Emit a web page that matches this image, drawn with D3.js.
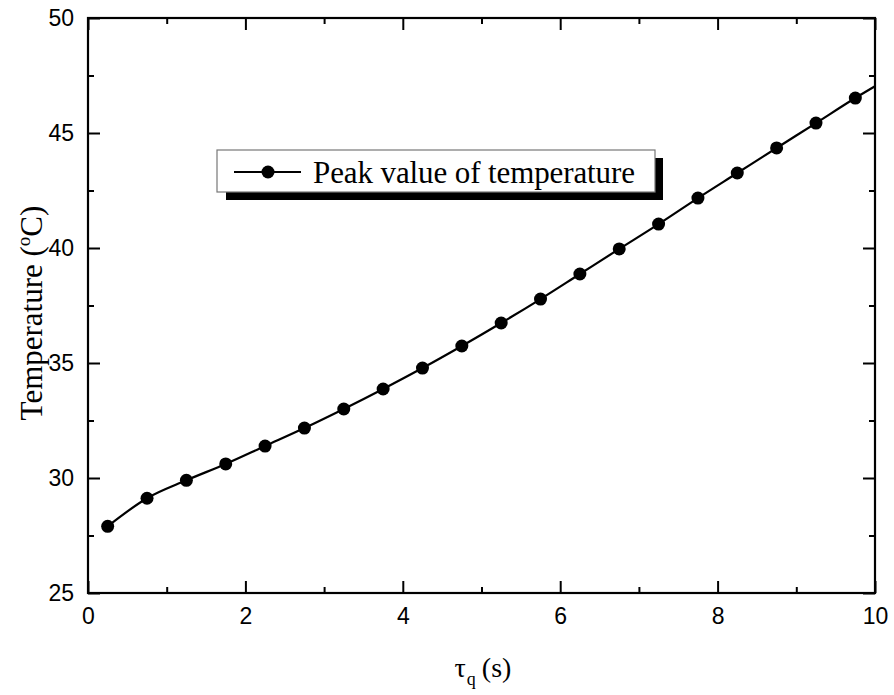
<!DOCTYPE html>
<html><head><meta charset="utf-8">
<script src="https://cdn.jsdelivr.net/npm/d3@7"></script>
<style>body{margin:0;background:#fff}</style>
</head><body>
<svg id="c" width="894" height="695"></svg>
<script>
const tauQ = [0.25,0.75,1.25,1.75,2.25,2.75,3.25,3.75,4.25,4.75,5.25,5.75,6.25,6.75,7.25,7.75,8.25,8.75,9.25,9.75];
const peakTemp = [27.9,29.12,29.9,30.61,31.39,32.17,33.0,33.87,34.78,35.74,36.74,37.78,38.87,39.96,41.04,42.17,43.26,44.35,45.43,46.52];
const curveEndX = 10;
const curveEndY = 47.03;
const xTicks = [0,2,4,6,8,10];
const yTicks = [25,30,35,40,45,50];
const legendLabel = "Peak value of temperature";

const svg = d3.select("#c");
const L = 88, R = 875, T = 18, B = 593;
const x = d3.scaleLinear().domain([0,10]).range([L,R]);
const y = d3.scaleLinear().domain([25,50]).range([B,T]);

const sans = "'Liberation Sans', Arial, sans-serif";
const serif = "'Liberation Serif', 'Times New Roman', serif";

const xMinor = d3.range(1,10,2);
const yMinor = d3.range(27.5,50,5);

function axisG(axis, tx, ty){
  const g = svg.append("g").attr("transform",`translate(${tx},${ty})`).call(axis);
  g.select(".domain").remove();
  g.selectAll("line").attr("stroke","#000").attr("stroke-width",2);
  return g;
}
const gb = axisG(d3.axisBottom(x).tickValues(xTicks).tickSize(-12).tickPadding(20).tickFormat(d3.format("d")), 0, B);
gb.selectAll("text").attr("font-family",sans).attr("font-size",23).attr("fill","#000").attr("dy","0.71em").attr("y",15);
axisG(d3.axisBottom(x).tickValues(xMinor).tickSize(-6).tickFormat(""), 0, B);
axisG(d3.axisTop(x).tickValues(xTicks).tickSize(-12).tickFormat(""), 0, T);
axisG(d3.axisTop(x).tickValues(xMinor).tickSize(-6).tickFormat(""), 0, T);
const gl = axisG(d3.axisLeft(y).tickValues(yTicks).tickSize(-12).tickPadding(14).tickFormat(d3.format("d")), L, 0);
gl.selectAll("text").attr("font-family",sans).attr("font-size",23).attr("fill","#000").attr("x",-14);
axisG(d3.axisLeft(y).tickValues(yMinor).tickSize(-6).tickFormat(""), L, 0);
axisG(d3.axisRight(y).tickValues(yTicks).tickSize(-12).tickFormat(""), R, 0);
axisG(d3.axisRight(y).tickValues(yMinor).tickSize(-6).tickFormat(""), R, 0);

svg.append("rect").attr("x",L).attr("y",T).attr("width",R-L).attr("height",B-T)
  .attr("fill","none").attr("stroke","#000").attr("stroke-width",2.2);

const pts = tauQ.map((d,i)=>[d,peakTemp[i]]);
pts.push([curveEndX,curveEndY]);
const line = d3.line().x(d=>x(d[0])).y(d=>y(d[1])).curve(d3.curveMonotoneX);
svg.append("path").attr("d",line(pts)).attr("fill","none").attr("stroke","#000").attr("stroke-width",2.2);

svg.append("g").selectAll("circle").data(tauQ).join("circle")
  .attr("cx",d=>x(d)).attr("cy",(d,i)=>y(peakTemp[i])).attr("r",6.5).attr("fill","#000");

const lg = svg.append("g");
lg.append("rect").attr("x",226).attr("y",158).attr("width",437).attr("height",42).attr("fill","#000");
lg.append("rect").attr("x",217).attr("y",150).attr("width",438).attr("height",42).attr("fill","#fff").attr("stroke","#777").attr("stroke-width",1.2);
lg.append("line").attr("x1",234).attr("x2",301).attr("y1",172).attr("y2",172).attr("stroke","#000").attr("stroke-width",2.2);
lg.append("circle").attr("cx",268).attr("cy",172).attr("r",6.5).attr("fill","#000");
lg.append("text").attr("x",313).attr("y",183).attr("font-family",serif).attr("font-size",31).attr("textLength",322).attr("fill","#000").text(legendLabel);

const xt = svg.append("text").attr("x",483).attr("y",677).attr("text-anchor","middle")
  .attr("font-family",serif).attr("font-size",28).attr("fill","#000");
xt.append("tspan").text("τ");
xt.append("tspan").attr("font-size",18).attr("dy",8).attr("dx",1).text("q");
xt.append("tspan").attr("dy",-8).attr("dx",6).text("(s)");

const yt = svg.append("text").attr("transform","translate(42,313) rotate(-90)").attr("text-anchor","middle")
  .attr("font-family",serif).attr("font-size",31).attr("fill","#000");
yt.append("tspan").text("Temperature (");
yt.append("tspan").attr("font-size",19).attr("dy",-12).text("o");
yt.append("tspan").attr("dy",12).text("C)");
</script>
</body></html>
